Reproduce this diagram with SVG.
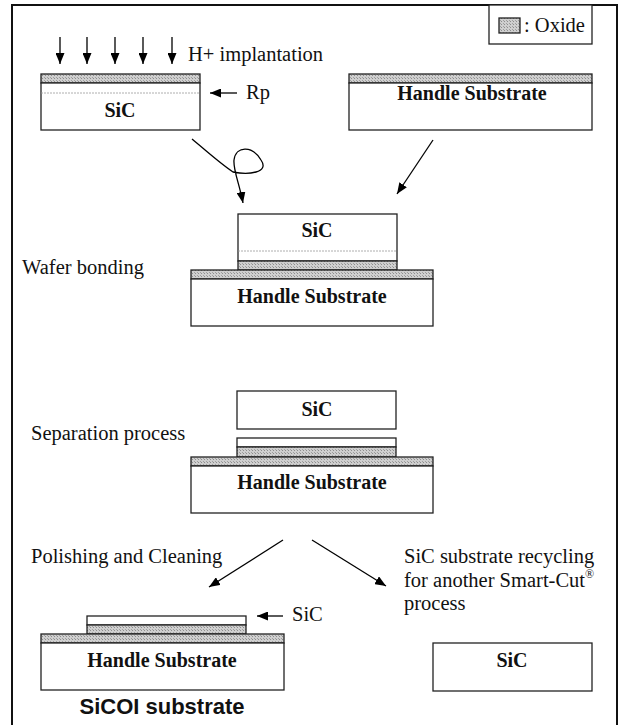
<svg xmlns="http://www.w3.org/2000/svg" width="626" height="725" viewBox="0 0 626 725">
<defs>
<pattern id="hatch" width="3" height="3" patternUnits="userSpaceOnUse">
<rect width="3" height="3" fill="#cfcfcf"/>
<rect width="1" height="1" fill="#8e8e8e"/>
<rect x="2" y="2" width="1" height="1" fill="#a0a0a0"/>
</pattern>
<marker id="ah" viewBox="0 0 11 9" refX="11" refY="4.5" markerWidth="11" markerHeight="9" markerUnits="userSpaceOnUse" orient="auto">
<path d="M0,0 L11,4.5 L0,9 Z" fill="#000"/>
</marker>
</defs>
<style>
.t{font-family:"Liberation Serif","Times New Roman",serif;font-size:20.5px;fill:#111}
.b{font-family:"Liberation Serif","Times New Roman",serif;font-size:20px;font-weight:bold;fill:#111;text-anchor:middle}
.box{fill:#fff;stroke:#222;stroke-width:1.3}
.ox{fill:url(#hatch);stroke:#222;stroke-width:1.3}
.dot{stroke:#999;stroke-width:0.8;stroke-dasharray:2,1}
.ar{stroke:#000;stroke-width:1.3;fill:none;marker-end:url(#ah)}
</style>
<rect width="626" height="725" fill="#fff"/>
<rect x="12" y="5" width="605" height="730" fill="none" stroke="#111" stroke-width="2"/>

<g id="legend">
<rect x="489" y="5" width="103" height="39" fill="#fff" stroke="#222" stroke-width="1.3"/>
<rect x="499" y="18" width="21" height="15" class="ox"/>
<text x="524" y="32" class="t">: Oxide</text>
</g>

<g id="implant">
<text x="188" y="61" class="t">H+ implantation</text>
</g>

<g id="sic-top">
<rect x="41" y="74" width="159" height="9" class="ox"/>
<rect x="41" y="83" width="159" height="47" class="box"/>
<line x1="41" y1="93" x2="200" y2="93" class="dot"/>
<text x="120" y="117" class="b">SiC</text>
<text x="246" y="99" class="t">Rp</text>
</g>

<g id="handle-top">
<rect x="349" y="74" width="243" height="9" class="ox"/>
<rect x="349" y="83" width="243" height="47" class="box"/>
<text x="472" y="100" class="b">Handle Substrate</text>
</g>

<g id="bonded">
<rect x="238" y="214" width="159" height="47" class="box"/>
<line x1="238" y1="251" x2="397" y2="251" class="dot"/>
<rect x="238" y="261" width="159" height="9" class="ox"/>
<rect x="191" y="270" width="242" height="9" class="ox"/>
<rect x="191" y="279" width="242" height="47" class="box"/>
<text x="317" y="237" class="b">SiC</text>
<text x="312" y="303" class="b">Handle Substrate</text>
<text x="22" y="274" class="t">Wafer bonding</text>
</g>

<g id="separated">
<rect x="237" y="391" width="159" height="38" class="box"/>
<text x="317" y="416" class="b">SiC</text>
<rect x="237" y="438" width="159" height="9" class="box"/>
<rect x="237" y="447" width="159" height="10" class="ox"/>
<rect x="191" y="457" width="242" height="9" class="ox"/>
<rect x="191" y="466" width="242" height="47" class="box"/>
<text x="312" y="489" class="b">Handle Substrate</text>
<text x="31" y="440" class="t">Separation process</text>
</g>

<g id="sicoi">
<text x="31" y="563" class="t">Polishing and Cleaning</text>
<rect x="87" y="616" width="159" height="9" class="box"/>
<rect x="87" y="625" width="159" height="9" class="ox"/>
<rect x="41" y="634" width="243" height="9" class="ox"/>
<rect x="41" y="643" width="243" height="47" class="box"/>
<text x="162" y="667" class="b">Handle Substrate</text>
<text x="292" y="621" class="t">SiC</text>
<text x="162" y="714" font-family="'Liberation Sans',Arial,sans-serif" font-size="22" font-weight="bold" text-anchor="middle" fill="#111">SiCOI substrate</text>
</g>

<g id="recycle">
<text x="404" y="563" class="t">SiC substrate recycling</text>
<text x="404" y="587" class="t">for another Smart-Cut<tspan font-size="12" dy="-9">®</tspan></text>
<text x="404" y="610" class="t">process</text>
<rect x="433" y="643" width="159" height="48" class="box"/>
<text x="512" y="667" class="b">SiC</text>
</g>

<g id="connectors">
<line x1="60" y1="37" x2="60" y2="64" class="ar"/>
<line x1="87" y1="37" x2="87" y2="64" class="ar"/>
<line x1="115" y1="37" x2="115" y2="64" class="ar"/>
<line x1="143" y1="37" x2="143" y2="64" class="ar"/>
<line x1="172" y1="37" x2="172" y2="64" class="ar"/>
<line x1="237" y1="93" x2="210" y2="93" class="ar"/>
<path d="M192,139 C205,150 222,165 233,172 C248,175 270,173 261,160 C253,146 236,145 234,160 C233,170 239,182 243,203" class="ar"/>
<line x1="433" y1="140" x2="397" y2="194" class="ar"/>
<line x1="283" y1="540" x2="209" y2="587" class="ar"/>
<line x1="312" y1="540" x2="386" y2="586" class="ar"/>
<line x1="283" y1="616" x2="257" y2="616" class="ar"/>
</g>
</svg>
